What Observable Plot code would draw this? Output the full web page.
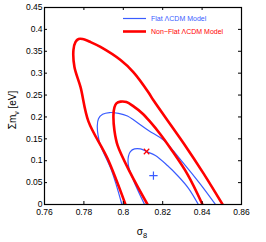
<!DOCTYPE html>
<html><head><meta charset="utf-8">
<script src="https://cdn.jsdelivr.net/npm/d3@7"></script>
<script src="https://cdn.jsdelivr.net/npm/@observablehq/plot@0.6"></script>
<style>
html,body{margin:0;padding:0;background:#fff;}
#chart svg{display:block;}
</style>
</head><body><div id="chart"></div>
<script>
// Tick labels
const xTicks = [0.76, 0.78, 0.80, 0.82, 0.84, 0.86];
const yTicks = [0, 0.05, 0.10, 0.15, 0.20, 0.25, 0.30, 0.35, 0.40, 0.45];

// Series names
const seriesNames = ["Flat \u039BCDM Model", "Non\u2212Flat \u039BCDM Model"];

// Flat ΛCDM, 2σ contour (outer blue)
const flat2X = [0.7993, 0.7940, 0.7884, 0.7872, 0.7868, 0.7874, 0.7895, 0.7930, 0.7976, 0.8021, 0.8062, 0.8128, 0.8204, 0.8306, 0.8392, 0.8468];
const flat2Y = [0, 0.078, 0.135, 0.158, 0.180, 0.196, 0.206, 0.210, 0.208, 0.202, 0.190, 0.169, 0.147, 0.094, 0.046, 0];
// Flat ΛCDM, 1σ contour (inner blue)
const flat1X = [0.8108, 0.8052, 0.8026, 0.8026, 0.8036, 0.8057, 0.8087, 0.8118, 0.8163, 0.8224, 0.8280, 0.8331, 0.8381];
const flat1Y = [0, 0.055, 0.089, 0.110, 0.121, 0.127, 0.127, 0.121, 0.112, 0.089, 0.064, 0.037, 0];
// Non-flat ΛCDM, 2σ contour (outer red)
const nonflat2X = [0.8011, 0.7920, 0.7823, 0.7783, 0.7752, 0.7747, 0.7757, 0.7773, 0.7793, 0.7834, 0.7884, 0.7986, 0.8052, 0.8128, 0.8153, 0.8306, 0.8407, 0.8504];
const nonflat2Y = [0, 0.105, 0.190, 0.268, 0.314, 0.353, 0.371, 0.378, 0.378, 0.371, 0.360, 0.330, 0.302, 0.256, 0.238, 0.140, 0.071, 0];
// Non-flat ΛCDM, 1σ contour (inner red)
const nonflat1X = [0.8123, 0.8037, 0.7971, 0.7955, 0.7950, 0.7955, 0.7965, 0.7986, 0.8016, 0.8052, 0.8097, 0.8138, 0.8189, 0.8240, 0.8326, 0.8402];
const nonflat1Y = [0, 0.071, 0.135, 0.169, 0.204, 0.222, 0.231, 0.235, 0.234, 0.224, 0.208, 0.188, 0.160, 0.128, 0.069, 0];
// Best-fit points
const bestFlat = [0.8153, 0.066];
const bestNonFlat = [0.8118, 0.121];

const BLUE = "#3a5cff", RED = "#ff0000";

const toRows = (xs, ys, level) => xs.map((x, i) => ({x, y: ys[i], level}));
const blueRows = [...toRows(flat2X, flat2Y, "2s"), ...toRows(flat1X, flat1Y, "1s")];
const redRows = [...toRows(nonflat2X, nonflat2Y, "2s"), ...toRows(nonflat1X, nonflat1Y, "1s")];

const fmt = d => String(Math.round(d * 100) / 100);

const plot = Plot.plot({
  width: 266, height: 242,
  marginLeft: 44, marginRight: 25, marginTop: 7, marginBottom: 38,
  style: {fontFamily: "'Liberation Sans', Arial, sans-serif", fontSize: "8.5px", color: "#000", background: "#fff"},
  x: {domain: [0.76, 0.86]},
  y: {domain: [0, 0.45]},
  marks: [
    Plot.line(blueRows, {x: "x", y: "y", z: "level", stroke: BLUE, strokeWidth: 1.2, curve: "catmull-rom", clip: true}),
    Plot.line(redRows, {x: "x", y: "y", z: "level", stroke: RED, strokeWidth: 2.6, curve: "catmull-rom", clip: true}),
    Plot.dot([bestNonFlat], {x: d => d[0], y: d => d[1], symbol: "times", r: 2.6, stroke: RED, strokeWidth: 1.2}),
    Plot.dot([bestFlat], {x: d => d[0], y: d => d[1], symbol: "plus", r: 2.8, stroke: BLUE, strokeWidth: 1.2}),
    // inward ticks
    Plot.ruleX(xTicks, {x: d => d, insetTop: 194, stroke: "#000"}),
    Plot.ruleX(xTicks, {x: d => d, insetBottom: 194, stroke: "#000"}),
    Plot.ruleY(yTicks, {y: d => d, insetRight: 194, stroke: "#000"}),
    Plot.ruleY(yTicks, {y: d => d, insetLeft: 194, stroke: "#000"}),
    Plot.frame({stroke: "#000", strokeWidth: 1.2}),
    Plot.axisX(xTicks, {tickSize: 0, tickPadding: 4, tickFormat: fmt, label: null}),
    Plot.axisY(yTicks, {tickSize: 0, tickPadding: 2, tickFormat: fmt, label: null})
  ]
});

document.getElementById("chart").appendChild(plot);
const svg = d3.select(plot);

// x label σ8
const xl = svg.append("text").attr("x", 142).attr("y", 235).attr("text-anchor", "middle")
  .style("font-size", "10px").attr("fill", "#000");
xl.append("tspan").text("\u03C3");
xl.append("tspan").attr("dy", 3).style("font-size", "7.5px").text("8");

// y label Σmν [eV]
const yl = svg.append("text").attr("transform", "translate(16,110) rotate(-90)").attr("text-anchor", "middle")
  .style("font-size", "10px").attr("fill", "#000");
yl.append("tspan").text("\u03A3m");
yl.append("tspan").attr("dy", 2.5).style("font-size", "7px").text("\u03BD");
yl.append("tspan").attr("dy", -2.5).text(" [eV]");

// legend
const legend = svg.append("g").style("font-size", "7px").attr("text-anchor", "start");
[[seriesNames[0], BLUE, 1.2, 18.5], [seriesNames[1], RED, 2.6, 31.5]].forEach(([name, color, w, yy]) => {
  legend.append("line").attr("x1", 123).attr("x2", 146).attr("y1", yy).attr("y2", yy)
    .attr("stroke", color).attr("stroke-width", w);
  legend.append("text").attr("x", 151).attr("y", yy).attr("dy", "0.35em")
    .attr("text-anchor", "start").attr("fill", color).text(name);
});
</script>
</body></html>
